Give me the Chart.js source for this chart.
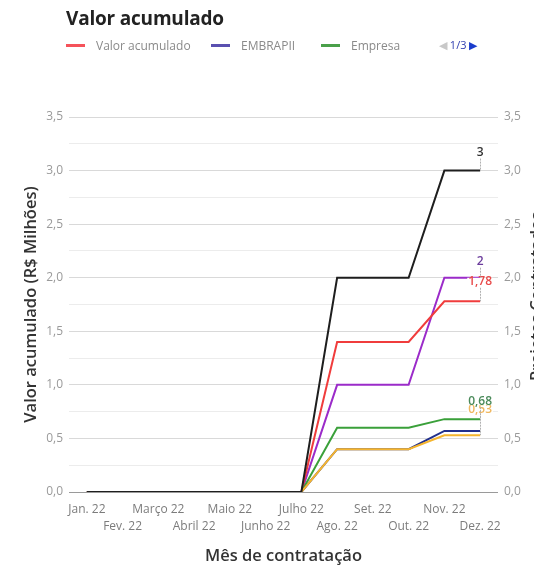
<!DOCTYPE html>
<html>
<head>
<meta charset="utf-8">
<script src="https://cdn.jsdelivr.net/npm/chart.js@4.4.0/dist/chart.umd.min.js"></script>
<style>
body{margin:0;width:534px;height:566px;overflow:hidden;position:relative;background:#fff;font-family:"Open Sans",sans-serif}
#titulo{position:absolute;left:66px;top:5px;font-size:19px;font-weight:700;color:#222;letter-spacing:-0.2px}
.leg{position:absolute;top:37px;font-size:12px;color:#8a8a8a;display:flex;align-items:center;white-space:nowrap}
.leg i{display:inline-block;width:19px;height:3px;margin-right:11px}
#pag{position:absolute;left:439px;top:37px;font-size:11px;color:#3340b0;white-space:nowrap}
#pag b{color:#c8c8c8;font-weight:400}
#pag span{color:#1a3ccc}
#wrap{position:absolute;left:0;top:0;width:546px;height:566px}
</style>
</head>
<body>
<div id="wrap"><canvas id="grafico" width="546" height="566"></canvas></div>
<div id="titulo">Valor acumulado</div>
<div id="legenda"></div>
<div id="pag"><b>&#9664;</b> 1/3 <span>&#9654;</span></div>
<script>
// ===== dados =====
const meses=["Jan. 22","Fev. 22","Março 22","Abril 22","Maio 22","Junho 22","Julho 22","Ago. 22","Set. 22","Out. 22","Nov. 22","Dez. 22"];
const projetos      =[0,0,0,0,0,0,0,2,2,2,3,3];
const empresas      =[0,0,0,0,0,0,0,1,1,1,2,2];
const valorAcumulado=[0,0,0,0,0,0,0,1.4,1.4,1.4,1.78,1.78];
const embrapii      =[0,0,0,0,0,0,0,0.4,0.4,0.4,0.57,0.57];
const empresa       =[0,0,0,0,0,0,0,0.6,0.6,0.6,0.68,0.68];
const unidade       =[0,0,0,0,0,0,0,0.4,0.4,0.4,0.53,0.53];
const legendaItens=["Valor acumulado","EMBRAPII","Empresa"];

// ===== estilo =====
const cores={
  "Projetos contratados":"#1e1e1e",
  "Unidade EMBRAPII":"#f5b52e",
  "EMBRAPII":"#22308c",
  "Empresa":"#3aa03a",
  "Valor acumulado":"#f03c3c",
  "Empresas":"#9b2bc9"
};
const coresLegenda={"Valor acumulado":"#f5525a","EMBRAPII":"#5a50b0","Empresa":"#4aa04a"};
const posLegenda=[66,211,321];
// rótulos finais: cor do texto e distância acima do ponto
const rotulos={
  "Projetos contratados":{cor:"#333",dy:18},
  "Empresas":{cor:"#6b3c9c",dy:16},
  "Valor acumulado":{cor:"#e84a4a",dy:19.5},
  "Empresa":{cor:"#4a8a5a",dy:18},
  "Unidade EMBRAPII":{cor:"#f0b860",dy:25.5}
};
const fonteTitulo={family:"Open Sans",size:16.5,weight:"600"};

// legenda html
const leg=document.getElementById("legenda");
legendaItens.forEach((n,i)=>{
  const d=document.createElement("div"); d.className="leg"; d.style.left=posLegenda[i]+"px";
  d.innerHTML=`<i style="background:${coresLegenda[n]}"></i>${n}`; leg.appendChild(d);
});

const series=[
  ["Projetos contratados",projetos,"y2"],
  ["Unidade EMBRAPII",unidade,"y"],
  ["EMBRAPII",embrapii,"y"],
  ["Empresa",empresa,"y"],
  ["Valor acumulado",valorAcumulado,"y"],
  ["Empresas",empresas,"y2"]
];

const fmt=v=>String(v).replace(".",",");
const isMajor=v=>Math.abs(v*2-Math.round(v*2))<1e-6;

const rotulosFinais={
  id:"rotulosFinais",
  afterDatasetsDraw(chart){
    const ctx=chart.ctx;
    chart.data.datasets.forEach((ds,i)=>{
      const r=rotulos[ds.label]; if(!r) return;
      const pts=chart.getDatasetMeta(i).data; const p=pts[pts.length-1];
      const txt=fmt(ds.data[ds.data.length-1]);
      ctx.save();
      ctx.font='600 12px "Open Sans"';
      const w=ctx.measureText(txt).width, cy=p.y-r.dy, x=Math.round(p.x)+0.5;
      ctx.strokeStyle="#b0b0b0"; ctx.lineWidth=1; ctx.setLineDash([2,1]);
      ctx.beginPath(); ctx.moveTo(x,cy+6); ctx.lineTo(x,p.y); ctx.stroke();
      ctx.setLineDash([]);
      ctx.fillStyle="#fff"; ctx.fillRect(p.x-w/2-1,cy-4,w+2,8);
      ctx.fillStyle=r.cor; ctx.textAlign="center"; ctx.textBaseline="middle";
      ctx.fillText(txt,p.x,cy);
      ctx.restore();
    });
    // título do eixo direito (cortado pela borda, como no original)
    const s=chart.scales.y2;
    ctx.save();
    ctx.translate(537,(s.top+s.bottom)/2-8);
    ctx.rotate(-Math.PI/2);
    ctx.font=`600 ${fonteTitulo.size}px "Open Sans"`;
    ctx.fillStyle="#333"; ctx.textAlign="center"; ctx.textBaseline="middle";
    ctx.fillText("Projetos Contratados",0,0);
    ctx.restore();
  }
};

const tituloEixo=(t,pad)=>({display:true,text:t,color:"#333",font:fonteTitulo,padding:pad});
const ticksY={stepSize:0.25,padding:6,color:"#9a9a9a",font:{family:"Open Sans",size:12},callback:v=>isMajor(v)?v.toFixed(1).replace(".",","):""};

new Chart(document.getElementById("grafico"),{
  type:"line",
  data:{
    labels:meses,
    datasets:series.map(([n,d,ax])=>({label:n,data:d,yAxisID:ax,borderColor:cores[n],backgroundColor:cores[n],borderWidth:2,pointRadius:0,tension:0,fill:false}))
  },
  options:{
    responsive:false,animation:false,
    layout:{padding:{top:117,left:0,right:0,bottom:0}},
    plugins:{legend:{display:false},title:{display:false},tooltip:{enabled:false}},
    scales:{
      x:{offset:true,afterFit(s){s.height=74;},grid:{display:false},border:{display:false},
        ticks:{autoSkip:false,maxRotation:0,minRotation:0,padding:1,color:"#7c7c7c",font:{family:"Open Sans",size:12,lineHeight:1.4},
          callback:function(v,i){const l=this.getLabelForValue(v);return i%2?["",l]:[l,""];}},
        title:tituloEixo("Mês de contratação",{top:0,bottom:0})},
      y:{position:"left",min:0,max:3.5,afterFit(s){s.width=69;},border:{display:false},
        grid:{drawTicks:false,color:c=>c.tick.value===0?"#9a9a9a":(isMajor(c.tick.value)?"#d9d9d9":"#ececec")},
        ticks:ticksY,
        title:tituloEixo("Valor acumulado (R$ Milhões)",{top:21,bottom:0})},
      y2:{position:"right",min:0,max:3.5,afterFit(s){s.width=48;},border:{display:false},
        grid:{display:false,drawTicks:false},
        ticks:ticksY}
    }
  },
  plugins:[rotulosFinais]
});
</script>
</body>
</html>
